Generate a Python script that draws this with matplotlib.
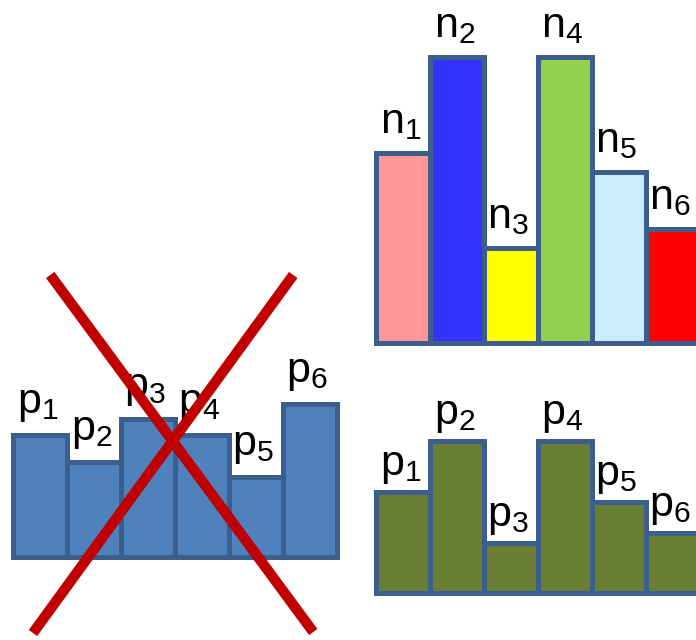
import matplotlib
matplotlib.use('Agg')
import matplotlib.pyplot as plt
from matplotlib.lines import Line2D

plt.rcParams['font.family'] = ['Liberation Sans', 'DejaVu Sans']
plt.rcParams['mathtext.default'] = 'regular'

W, H = 696, 640  # figure size in pixels

# top right group: n_i
n_labels = ['n$_1$', 'n$_2$', 'n$_3$', 'n$_4$', 'n$_5$', 'n$_6$']
n_values = [190, 286, 95, 286, 171, 114]
n_colors = ['#FF9999', '#3333FF', '#FFFF00', '#92D050', '#CCECFF', '#FF0000']

# bottom left group (crossed out): p_i
p_bad_labels = ['p$_1$', 'p$_2$', 'p$_3$', 'p$_4$', 'p$_5$', 'p$_6$']
p_bad_values = [122, 95, 138, 122, 80, 153]

# bottom right group: p_i
p_good_labels = ['p$_1$', 'p$_2$', 'p$_3$', 'p$_4$', 'p$_5$', 'p$_6$']
p_good_values = [101, 152, 50, 152, 91, 60]

edge = '#3B5E8C'
bar_px = 54

fig = plt.figure(figsize=(W / 100, H / 100), dpi=100)


def bar_group(left, bottom, values, labels, colors, pad):
    # left / bottom in pixels from top-left corner of the image
    n = len(values)
    ax = fig.add_axes([left / W, (H - bottom) / H, n * bar_px / W, 320 / H])
    ax.set_xlim(0, n)
    ax.set_ylim(0, 320)
    ax.axis('off')
    ax.bar(range(n), values, width=1, align='edge', color=colors,
           edgecolor=edge, linewidth=3.6, clip_on=False, zorder=2)
    for i, (v, lab) in enumerate(zip(values, labels)):
        ax.text(i + 0.45, v + pad, lab, ha='center', va='baseline',
                fontsize=31, color='black', zorder=3, clip_on=False)
    return ax


bar_group(376, 343, n_values, n_labels, n_colors, 20)
ax_bad = bar_group(13, 557, p_bad_values, p_bad_labels, '#4F81BD', 22)
bar_group(376, 593, p_good_values, p_good_labels, '#677E33', 17)

# red cross over the crossed-out group (in that group's bar units)
cross = [((0.69, 282), (5.56, -75)), ((5.19, 282), (0.37, -76))]
for (x0, y0), (x1, y1) in cross:
    ax_bad.add_line(Line2D([x0, x1], [y0, y1], color='#C00000',
                           linewidth=7.5, clip_on=False,
                           solid_capstyle='butt', zorder=5))

fig.savefig('out.png', dpi=100)
